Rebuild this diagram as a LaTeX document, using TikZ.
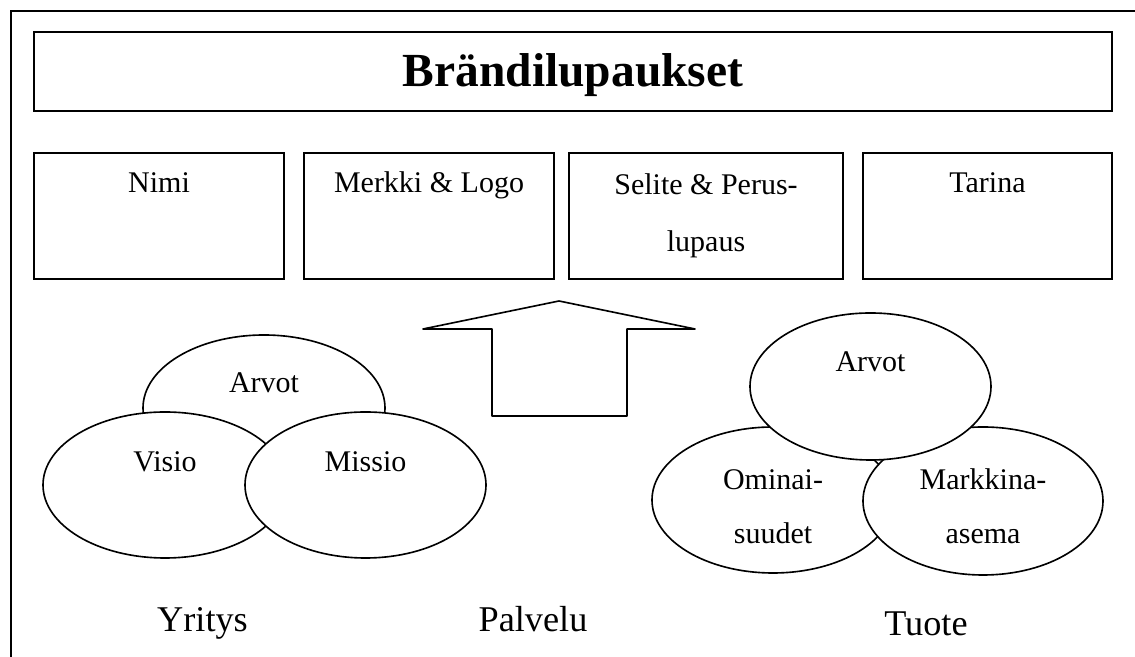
\documentclass[tikz,border=0pt]{standalone}
\usepackage{fontspec}
\setmainfont{Liberation Serif}

\tikzset{
  otsikko/.style={font=\fontsize{19}{23}\selectfont\bfseries, anchor=base, inner sep=0pt},
  teksti/.style={font=\fontsize{12}{21.6}\selectfont, align=center, anchor=base, inner sep=0pt},
  alateksti/.style={font=\fontsize{14.5}{17}\selectfont, anchor=base, inner sep=0pt},
  soikio/.style={draw, fill=white},
}

\begin{document}
\begin{tikzpicture}[x=0.4pt, y=-0.4pt, line width=0.65pt]
    \useasboundingbox (0,0) rectangle (1135,657);

    % Kehys
    \draw (11,657) -- (11,11) -- (1135,11);

    % Otsikko
    \draw (34,32) rectangle (1112,111);
    \node[otsikko] (brandi) at (573,87) {Brändilupaukset};

    % Laatikot
    \draw (34,153) rectangle (284,279);
    \draw (304,153) rectangle (554,279);
    \draw (569,153) rectangle (843,279);
    \draw (863,153) rectangle (1112,279);
    \node[teksti] (nimi) at (159,193) {Nimi};
    \node[teksti] (merkki) at (429,193) {Merkki \& Logo};
    \node[teksti, font=\fontsize{12}{23}\selectfont] (selite) at (706,252) {Selite \& Perus-\\lupaus};
    \node[teksti] (tarina) at (987.5,193) {Tarina};

    % Nuoli
    \draw[line join=round] (492,416) -- (492,329) -- (423,329) -- (559,301) -- (695,329)
        -- (627,329) -- (627,416) -- cycle;

    % Yritys
    \draw[soikio] (264,408) ellipse (121 and 73);
    \draw[soikio] (165,485) ellipse (122 and 73);
    \draw[soikio] (365.5,485) ellipse (120.5 and 73);
    \node[teksti] (arvot1) at (264,393) {Arvot};
    \node[teksti] (visio) at (165,472) {Visio};
    \node[teksti] (missio) at (365.5,472) {Missio};

    % Tuote
    \draw[soikio] (773,500) ellipse (121 and 73);
    \draw[soikio] (983,501) ellipse (120 and 74);
    \draw[soikio] (870.5,386.5) ellipse (120.5 and 73.5);
    \node[teksti] (arvot2) at (870.5,372) {Arvot};
    \node[teksti] (ominai) at (773,544) {Ominai-\\suudet};
    \node[teksti] (markkina) at (983,544) {Markkina-\\asema};

    % Alaotsikot
    \node[alateksti] (yritys) at (202.5,632) {Yritys};
    \node[alateksti] (palvelu) at (533,632) {Palvelu};
    \node[alateksti] (tuote) at (926,636) {Tuote};
\end{tikzpicture}
\end{document}
